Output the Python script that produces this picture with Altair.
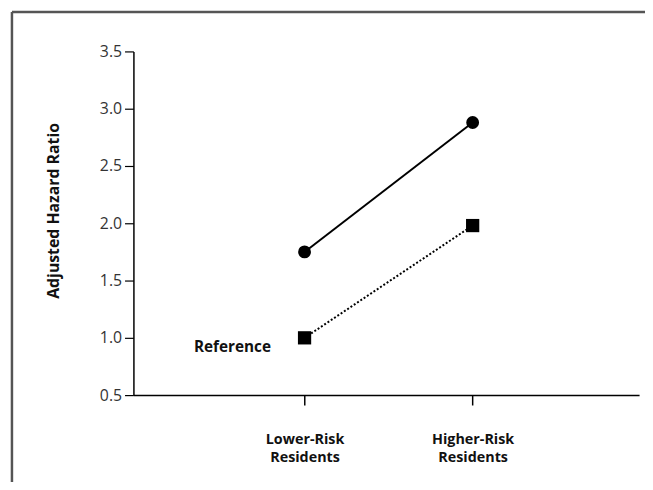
import altair as alt
import pandas as pd

# Data
categories = ["Lower-Risk Residents", "Higher-Risk Residents"]
circle_hr = [1.75, 2.88]   # solid line, circles
square_hr = [1.00, 1.98]   # dotted line, squares
y_ticks = [0.5, 1.0, 1.5, 2.0, 2.5, 3.0, 3.5]
ref_label = "Reference"

pos = list(range(1, len(categories) + 1))
df_c = pd.DataFrame({"pos": pos, "cat": categories, "hr": circle_hr})
df_s = pd.DataFrame({"pos": pos, "cat": categories, "hr": square_hr})
df_ref = df_s.iloc[[0]].assign(label=ref_label)

# multi-line labels: "Lower-Risk Residents" -> ["Lower-Risk", "Residents"]
parts = []
for p, c in zip(pos, categories):
    a, b = c.rsplit(" ", 1)
    parts.append(f"datum.value == {p} ? ['{a}', '{b}']")
label_expr = " : ".join(parts) + " : ''"

FONT = "Open Sans"

x_enc = alt.X(
    "pos:Q",
    scale=alt.Scale(domain=[-0.018, 2.99], nice=False, zero=False),
    axis=alt.Axis(
        values=pos, labelExpr=label_expr, title=None, grid=False,
        tickSize=10, tickColor="black", domainColor="black", domainWidth=1.5,
        tickWidth=1.5, labelPadding=28, labelFont=FONT, labelFontSize=14.5,
        labelFontWeight="bold", labelColor="#111", labelLineHeight=18,
        labelBaseline="top",
    ),
)
y_enc = alt.Y(
    "hr:Q",
    scale=alt.Scale(domain=[0.5, 3.5], nice=False, zero=False),
    axis=alt.Axis(
        values=y_ticks, format=".1f", title="Adjusted Hazard Ratio",
        grid=False, tickSize=9, tickColor="black", domainColor="black",
        domainWidth=1.5, tickWidth=1.2, labelFont=FONT, labelFontSize=16,
        labelColor="#333", labelPadding=3, titleFont=FONT, titleFontSize=16,
        titleFontWeight="bold", titleColor="#111", titlePadding=38,
        titleY=161,
    ),
)

line_c = alt.Chart(df_c).mark_line(color="black", strokeWidth=2).encode(x=x_enc, y=y_enc)
pts_c = alt.Chart(df_c).mark_point(shape="circle", filled=True, color="black", size=170, opacity=1).encode(x="pos:Q", y="hr:Q")
line_s = alt.Chart(df_s).mark_line(color="black", strokeWidth=2, strokeDash=[2, 2]).encode(x="pos:Q", y="hr:Q")
pts_s = alt.Chart(df_s).mark_point(shape="square", filled=True, color="black", size=180, opacity=1).encode(x="pos:Q", y="hr:Q")
txt = alt.Chart(df_ref).mark_text(
    align="right", baseline="alphabetic", dx=-34, dy=14, font=FONT,
    fontSize=15.5, fontWeight="bold", color="#111"
).encode(x="pos:Q", y="hr:Q", text="label:N")

frame_df = pd.DataFrame({"a": [0]})
frame_top = alt.Chart(frame_df).mark_rule(color="#555", strokeWidth=2.5).encode(
    x=alt.value(-123), x2=alt.value(520), y=alt.value(-40))
frame_left = alt.Chart(frame_df).mark_rule(color="#555", strokeWidth=2.5).encode(
    x=alt.value(-123), y=alt.value(-40), y2=alt.value(445))

chart = alt.layer(line_c, line_s, pts_c, pts_s, txt, frame_top, frame_left).properties(
    width=512, height=348,
    padding={"left": 127, "top": 41, "right": 6, "bottom": 85},
    autosize=alt.AutoSizeParams(type="none"),
    background="white",
).configure_view(strokeWidth=0, stroke=None)

chart.save("out.html", embed_options={"renderer": "svg", "actions": False})
